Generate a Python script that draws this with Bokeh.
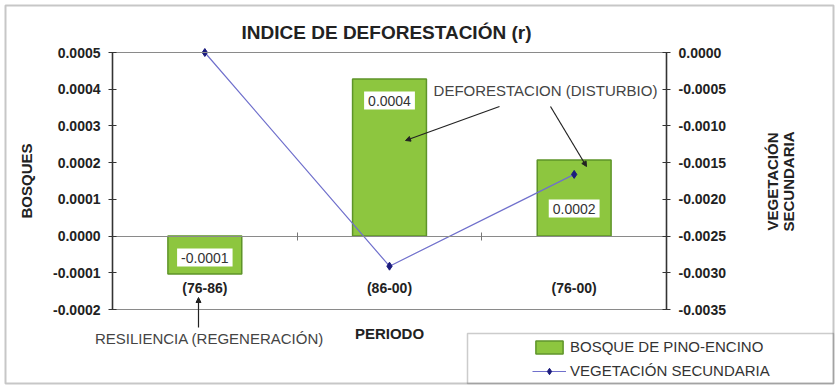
import math
from bokeh.plotting import figure
from bokeh.models import (Range1d, LinearAxis, FixedTicker, NumeralTickFormatter,
                          Label, Arrow, NormalHead, Legend, LegendItem, BoxAnnotation)
from bokeh.core.properties import value
from bokeh.embed import file_html
from bokeh.resources import INLINE

# ---- data ----
periods = ["(76-86)", "(86-00)", "(76-00)"]
bosque = [-0.000103, 0.000428, 0.000207]          # BOSQUE DE PINO-ENCINO (left axis)
vegetacion = [0.0, -0.00291, -0.00166]             # VEGETACIÓN SECUNDARIA (right axis)
left_ticks = [-0.0002, -0.0001, 0.0, 0.0001, 0.0002, 0.0003, 0.0004, 0.0005]
right_ticks = [-0.0035, -0.0030, -0.0025, -0.0020, -0.0015, -0.0010, -0.0005, 0.0]
title_text = "INDICE DE DEFORESTACIÓN (r)"
left_title = "BOSQUES"
right_title = ["VEGETACIÓN", "SECUNDARIA"]
x_title = "PERIODO"
note_top = "DEFORESTACION (DISTURBIO)"
note_bottom = "RESILIENCIA (REGENERACIÓN)"
series_names = ["BOSQUE DE PINO-ENCINO", "VEGETACIÓN SECUNDARIA"]

# ---- layout (pixels in the 840x388 page) ----
W, H = 840, 388
FL, FR, FT, FB = 112, 666, 52, 309        # plot area edges
FONT = "Liberation Sans"
BAR_FILL = "#8DC63F"
BAR_LINE = "#5E9429"
LINE_COL = "#7070CC"
MARK_COL = "#1C1C7E"
TXT = "#222222"
NOTE = "#444444"

n = len(periods)
L0, L1 = left_ticks[0], left_ticks[-1]
R0, R1 = right_ticks[0], right_ticks[-1]

def dx(px):   # page x -> data x
    return (px - FL) / (FR - FL) * n

def dy(py):   # page y -> left-axis data y
    return L0 + (FB - py) / (FB - FT) * (L1 - L0)

def dyr(py):  # page y -> right-axis data y
    return R0 + (FB - py) / (FB - FT) * (R1 - R0)

xpos = [i + 0.5 for i in range(n)]

p = figure(width=W, height=H, x_range=Range1d(dx(0), dx(W)), y_range=Range1d(dy(H), dy(0)),
           output_backend="svg", toolbar_location=None,
           x_axis_location=None, y_axis_location=None,
           min_border_left=0, min_border_right=0, min_border_top=0, min_border_bottom=0)
p.extra_y_ranges = {"veg": Range1d(dyr(H), dyr(0))}
p.grid.visible = False
p.outline_line_color = None
p.background_fill_color = "white"
p.border_fill_color = "white"

# ---- axes ----
ya = LinearAxis(ticker=FixedTicker(ticks=left_ticks), formatter=NumeralTickFormatter(format="0.0000"),
                bounds=(L0, L1), fixed_location=0, axis_label=left_title)
ra = LinearAxis(y_range_name="veg", ticker=FixedTicker(ticks=right_ticks),
                formatter=NumeralTickFormatter(format="0.0000"), bounds=(R0, R1), fixed_location=n)
for ax in [ya, ra]:
    ax.axis_line_color = "#333333"
    ax.axis_line_width = 1.6
    ax.major_tick_line_color = "#333333"
    ax.major_tick_in = 4
    ax.major_tick_out = 4
    ax.minor_tick_line_color = None
    ax.major_label_standoff = 8
    ax.major_label_text_font = FONT
    ax.major_label_text_font_style = "bold"
    ax.major_label_text_font_size = "14px"
    ax.major_label_text_color = TXT
    ax.axis_label_text_font = FONT
    ax.axis_label_text_font_style = "bold"
    ax.axis_label_text_font_size = "15px"
    ax.axis_label_text_color = TXT
ya.axis_label_standoff = 15
p.add_layout(ya, "left")
p.add_layout(ra, "right")

# bottom edge of the plot area, carrying the x title
xb = LinearAxis(ticker=FixedTicker(ticks=[]), bounds=(0, n), fixed_location=L0,
                axis_label=x_title, axis_label_standoff=15)
# zero line with category separators
xz = LinearAxis(ticker=FixedTicker(ticks=[i + 1 for i in range(n - 1)]), bounds=(0, n),
                fixed_location=0)
# top edge of the plot area
xt = LinearAxis(ticker=FixedTicker(ticks=[]), bounds=(0, n), fixed_location=L1)
for ax in [xb, xz, xt]:
    ax.axis_line_color = "#8a8a8a"
    ax.axis_line_width = 1.2
    ax.major_tick_line_color = "#777777"
    ax.major_tick_in = 4
    ax.major_tick_out = 4
    ax.minor_tick_line_color = None
    ax.major_label_text_alpha = 0
    ax.axis_label_text_font = FONT
    ax.axis_label_text_font_style = "bold"
    ax.axis_label_text_font_size = "15px"
    ax.axis_label_text_color = TXT
p.add_layout(xb, "below")
p.add_layout(xz, "below")
p.add_layout(xt, "above")

# ---- series ----
bars = p.vbar(x=xpos, top=bosque, width=0.4, fill_color=BAR_FILL,
              line_color=BAR_LINE, line_width=1.5)
ln = p.line(x=xpos, y=vegetacion, y_range_name="veg", line_color=LINE_COL, line_width=1.2)
mk = p.scatter(x=xpos, y=vegetacion, y_range_name="veg", marker="diamond", size=8,
               fill_color=MARK_COL, line_color=MARK_COL)

# category labels
p.text(x=xpos, y=[dy(287)] * n, text=periods, text_align="center", text_baseline="middle",
       text_font=value(FONT), text_font_style="bold", text_font_size="14px", text_color=TXT)

# value labels on the bars
value_label_py = [257, 100, 208]
for i, v in enumerate(bosque):
    p.add_layout(Label(x=xpos[i], y=dy(value_label_py[i]), text=f"{v:.4f}",
                       text_align="center", text_baseline="middle", text_font=FONT,
                       text_font_size="14px", text_color="#333333",
                       background_fill_color="white", padding=4))

# title
p.text(x=[dx(386)], y=[dy(32)], text=[title_text], text_align="center", text_baseline="middle",
       text_font=value(FONT), text_font_style="bold", text_font_size="19px", text_color=TXT)

# right axis title (reads bottom to top)
p.text(x=[dx(772), dx(788)], y=[dy(181), dy(181)], text=right_title, angle=math.pi / 2,
       text_align="center", text_baseline="middle", text_font=value(FONT),
       text_font_style="bold", text_font_size="15px", text_color=TXT)

# notes and arrows
p.text(x=[dx(545), dx(209)], y=[dy(90), dy(338)], text=[note_top, note_bottom],
       text_align="center", text_baseline="middle", text_font=value(FONT),
       text_font_size="15px", text_color=NOTE)
for (xs, ys, xe, ye) in [(499, 106, 405, 140), (550, 106, 586, 166), (198, 327, 198, 297)]:
    p.add_layout(Arrow(x_start=dx(xs), y_start=dy(ys), x_end=dx(xe), y_end=dy(ye),
                       line_color="#222222", line_width=1.2,
                       end=NormalHead(size=5, fill_color="#222222", line_color="#222222")))

# legend box and outer border
p.add_layout(BoxAnnotation(left=dx(467), right=dx(833), top=dy(333), bottom=dy(383),
                           fill_color="white", fill_alpha=1, line_color="#555555",
                           line_width=1.5))
p.add_layout(BoxAnnotation(left=dx(5), right=dx(833), top=dy(5), bottom=dy(383),
                           fill_alpha=0, line_color="#444444", line_width=2))

legend = Legend(items=[LegendItem(label=series_names[0], renderers=[bars]),
                       LegendItem(label=series_names[1], renderers=[ln, mk])],
                location=(532, H - 379), padding=0, margin=0, spacing=7,
                glyph_width=34, glyph_height=16, label_height=16, label_standoff=4,
                border_line_color=None, background_fill_alpha=0,
                label_text_font=FONT, label_text_font_size="15px", label_text_color="#333333")
p.add_layout(legend)

open("out.html", "w").write(file_html(p, INLINE))
